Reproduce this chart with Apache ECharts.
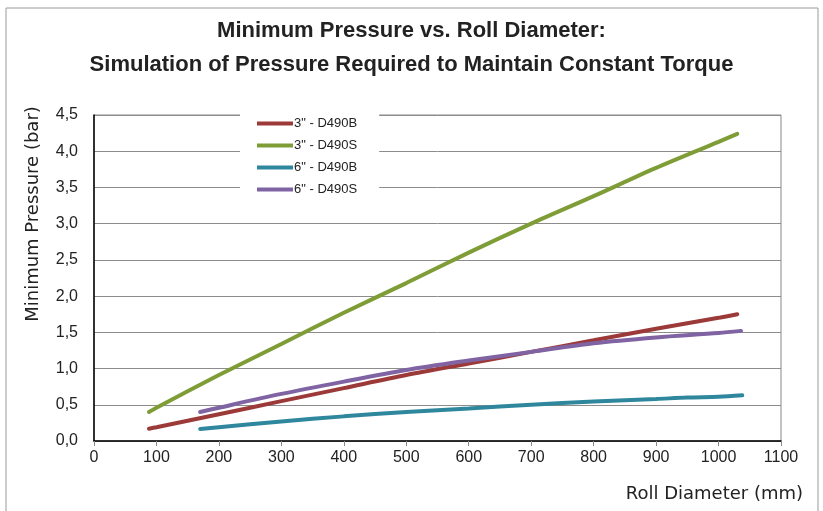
<!DOCTYPE html>
<html><head><meta charset="utf-8">
<script src="https://cdn.jsdelivr.net/npm/echarts@6/dist/echarts.min.js"></script>
<style>html,body{margin:0;padding:0;background:#fff}#c{width:823px;height:511px}</style>
</head><body><div id="c"></div>
<script>
const seriesNames = ['3" - D490B', '3" - D490S', '6" - D490B', '6" - D490S'];
const x3B = [88, 100, 200, 300, 400, 500, 600, 700, 800, 900, 1000, 1030];
const y3B = [0.17, 0.19, 0.37, 0.55, 0.73, 0.91, 1.07, 1.23, 1.39, 1.55, 1.70, 1.75];
const x3S = [88, 100, 200, 300, 400, 500, 600, 700, 800, 900, 1000, 1030];
const y3S = [0.40, 0.46, 0.91, 1.34, 1.77, 2.18, 2.60, 3.00, 3.38, 3.77, 4.13, 4.24];
const x6B = [170, 200, 300, 400, 500, 600, 700, 800, 900, 950, 1000, 1038];
const y6B = [0.165, 0.19, 0.27, 0.34, 0.40, 0.45, 0.50, 0.545, 0.58, 0.60, 0.61, 0.63];
const x6S = [170, 200, 300, 400, 500, 600, 700, 800, 900, 1000, 1036];
const y6S = [0.40, 0.46, 0.65, 0.82, 0.98, 1.11, 1.23, 1.35, 1.43, 1.49, 1.52];
const colors = ['#9B3A38', '#7F9D36', '#2F879E', '#7F63A3'];
const titleLines = ['Minimum Pressure vs. Roll Diameter:', 'Simulation of Pressure Required to Maintain Constant Torque'];
const yName = 'Minimum Pressure (bar)';
const xName = 'Roll Diameter (mm)';

const pairs = (xs, ys) => xs.map((x, i) => [x, ys[i]]);
const allData = [pairs(x3B, y3B), pairs(x3S, y3S), pairs(x6B, y6B), pairs(x6S, y6S)];

const chart = echarts.init(document.getElementById('c'), null, {renderer: 'canvas'});
chart.setOption({
  animation: false,
  backgroundColor: '#fff',
  color: colors,
  title: {
    text: titleLines.join('\n'),
    left: 'center', top: 9,
    textStyle: {fontFamily: 'Liberation Sans', fontWeight: 'bold', fontSize: 22, color: '#222', lineHeight: 34}
  },
  graphic: [
    {type: 'rect', shape: {x: 6, y: 8, width: 812, height: 520}, style: {fill: 'none', stroke: '#9a9a9a', lineWidth: 1}, z: -1},
    {type: 'text', x: 33, y: 214, rotation: Math.PI / 2,
      style: {text: yName, fontFamily: 'DejaVu Sans', fontSize: 18, fill: '#222', align: 'center', verticalAlign: 'middle'}},
    {type: 'text', x: 803, y: 494,
      style: {text: xName, fontFamily: 'DejaVu Sans', fontSize: 18, fill: '#222', align: 'right', verticalAlign: 'middle'}}
  ],
  legend: {
    orient: 'vertical', left: 240, top: 107,
    padding: [9, 22, 8, 17],
    backgroundColor: '#fff',
    itemWidth: 36, itemHeight: 4, itemGap: 7,
    icon: 'rect',
    data: seriesNames,
    textStyle: {fontFamily: 'Liberation Sans', fontSize: 13, color: '#222', padding: [0, 0, 0, -4], lineHeight: 15},
    z: 3
  },
  grid: {left: 94, right: 42, top: 115, bottom: 70, show: true, borderColor: '#888', borderWidth: 1, backgroundColor: 'transparent'},
  xAxis: {
    type: 'value', min: 0, max: 1100, interval: 100,
    axisLine: {show: true, onZero: false, lineStyle: {color: '#000', width: 1.5}},
    axisTick: {show: true, length: 5, lineStyle: {color: '#888'}},
    splitLine: {show: false},
    axisLabel: {fontFamily: 'Liberation Sans', fontSize: 16, color: '#222', margin: 9, formatter: v => String(v)}
  },
  yAxis: {
    type: 'value', min: 0, max: 4.5, interval: 0.5,
    axisLine: {show: true, lineStyle: {color: '#000', width: 1.5}},
    axisTick: {show: false},
    splitLine: {show: true, lineStyle: {color: '#8c8c8c', width: 1}},
    axisLabel: {fontFamily: 'Liberation Sans', fontSize: 16, color: '#222', margin: 16,
      formatter: v => v.toFixed(1).replace('.', ',')}
  },
  series: seriesNames.map((n, i) => ({
    name: n, type: 'line', data: allData[i], smooth: 0.3, showSymbol: false, symbol: 'none',
    lineStyle: {width: 4, color: colors[i], cap: 'round'},
    itemStyle: {color: colors[i]}, z: 2
  }))
});
</script></body></html>
